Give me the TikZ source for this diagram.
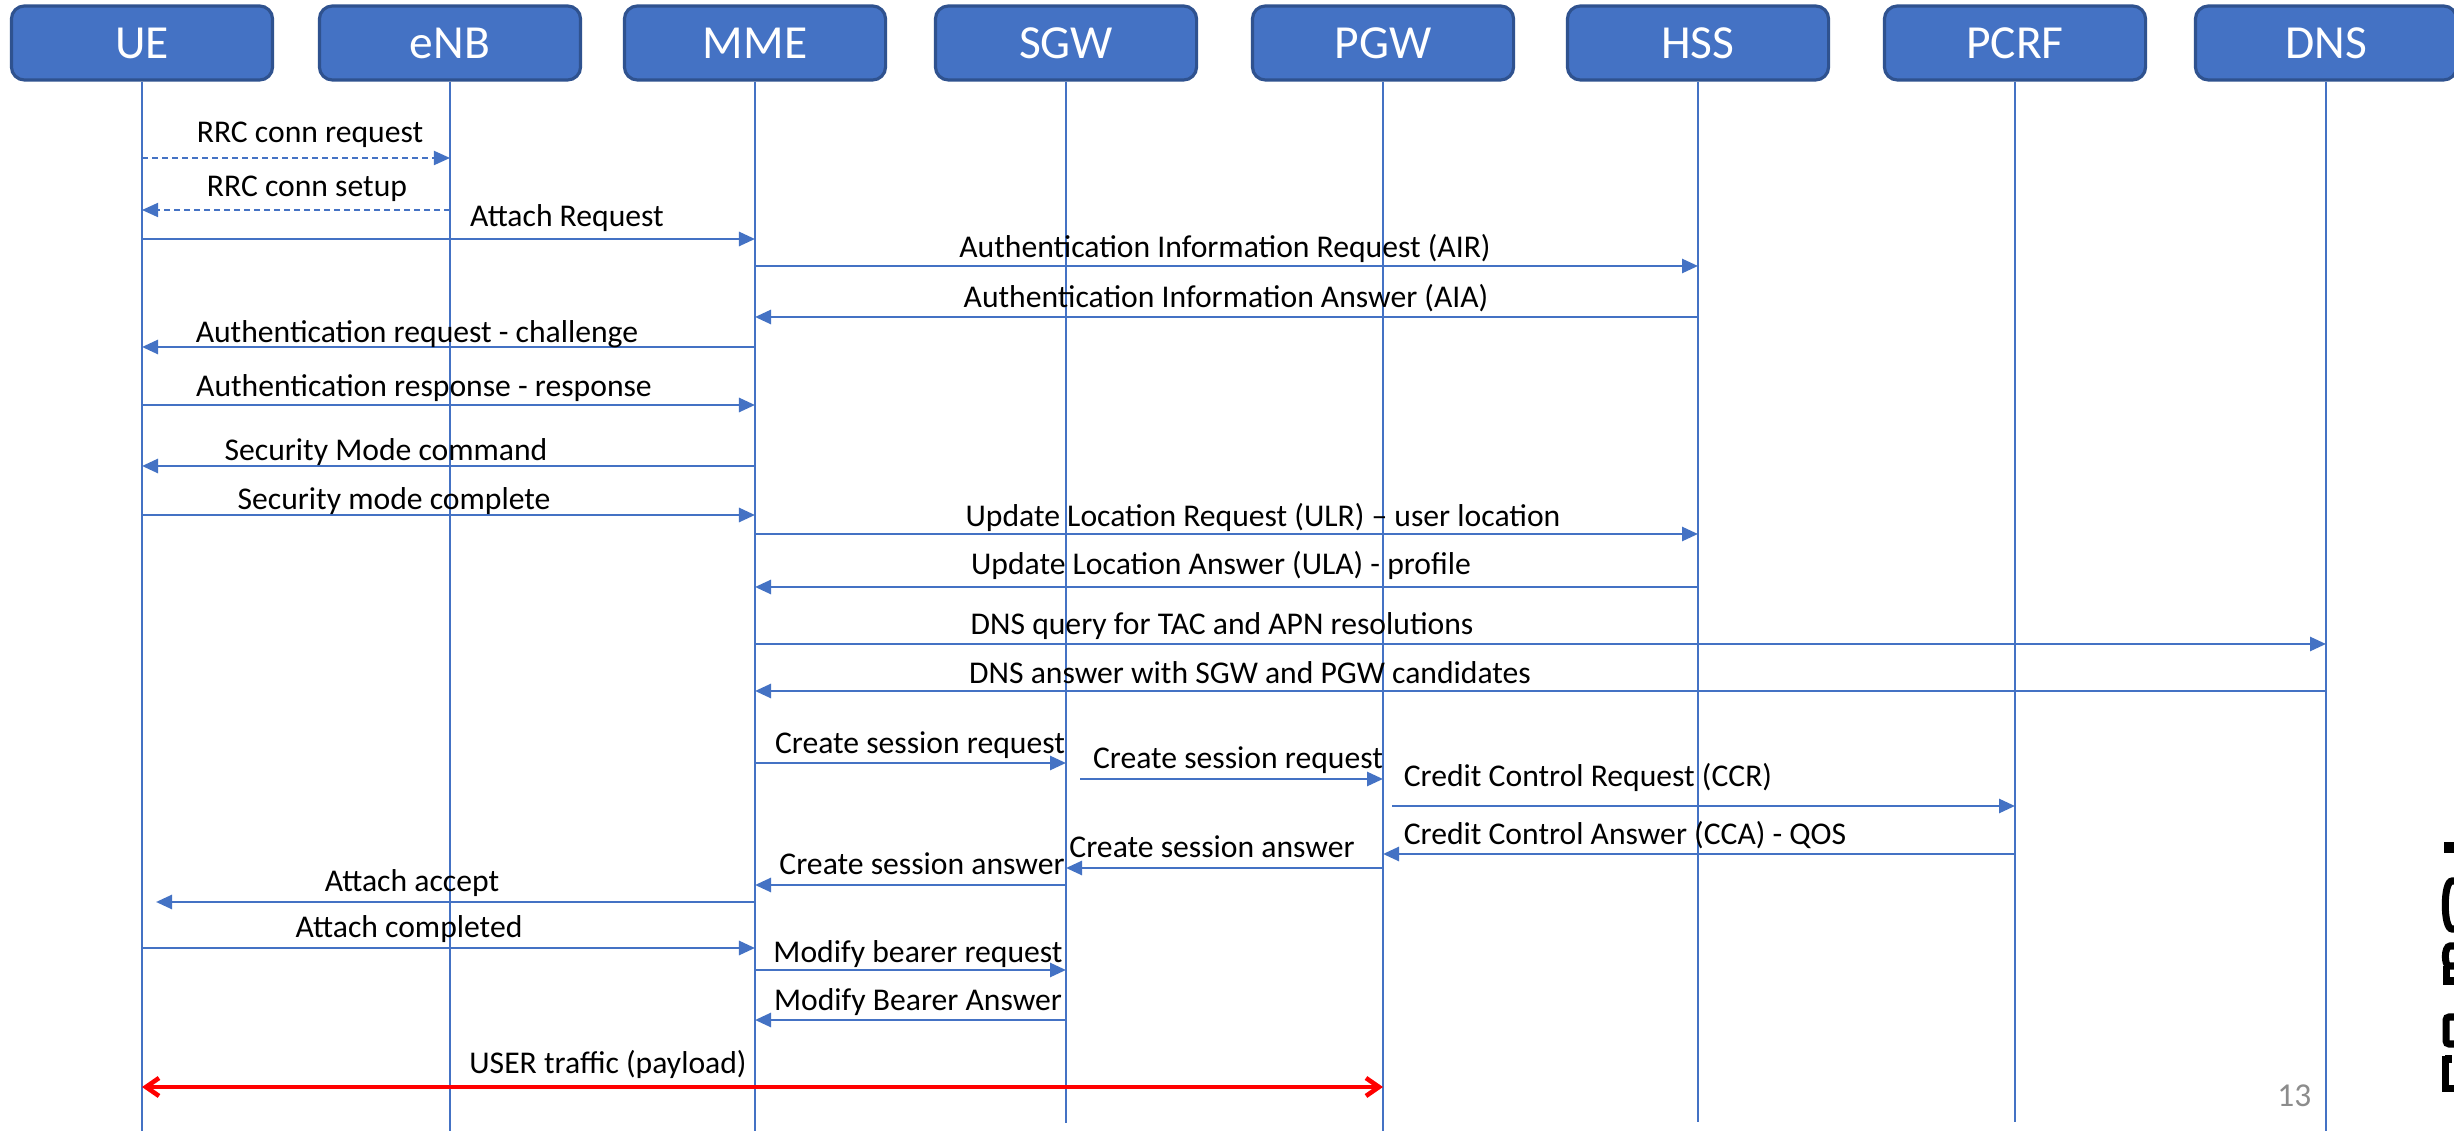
\documentclass[tikz,border=0pt]{standalone}
\usepackage{fontspec}
\setmainfont{Carlito}
\usetikzlibrary{arrows.meta}
\definecolor{ppblue}{HTML}{4472C4}
\definecolor{ppdark}{HTML}{2F528F}
\definecolor{pnum}{HTML}{8C8C8C}
\begin{document}
\begin{tikzpicture}[x=0.01cm,y=-0.01cm,
  actor/.style={draw=ppdark, line width=0.9pt, fill=ppblue, rounded corners=1.3mm, minimum width=2.61cm, minimum height=0.74cm, text=white, font=\fontsize{13.5}{16}\selectfont, inner sep=0pt},
  life/.style={draw=ppblue, line width=0.4pt},
  msg/.style={draw=ppblue, line width=0.75pt, -{Triangle[length=1.6mm,width=1.4mm]}},
  dmsg/.style={draw=ppblue, line width=0.5pt, dash pattern=on 0.6mm off 0.4mm, -{Triangle[length=1.6mm,width=1.4mm]}},
  lbl/.style={anchor=base, inner sep=0pt, font=\fontsize{9}{11}\selectfont},
  traffic/.style={draw=red, line width=1.3pt, {Straight Barb[length=1.3mm,width=1.8mm]}-{Straight Barb[length=1.3mm,width=1.8mm]}},
  logo/.style={draw=black, line width=0.7mm}
]
\useasboundingbox (0,0) rectangle (2454,1131);
\fill[white] (0,0) rectangle (2454,1131);

% actors
\node[actor] (UE)   at (142,43)  {UE};
\node[actor] (eNB)  at (450,43)  {eNB};
\node[actor] (MME)  at (755,43)  {MME};
\node[actor] (SGW)  at (1066,43) {SGW};
\node[actor] (PGW)  at (1383,43) {PGW};
\node[actor] (HSS)  at (1698,43) {HSS};
\node[actor] (PCRF) at (2015,43) {PCRF};
\node[actor] (DNS)  at (2326,43) {DNS};

% lifelines
\draw[life] (UE.south)   -- (UE.south |- 0,1131);
\draw[life] (eNB.south)  -- (eNB.south |- 0,1131);
\draw[life] (MME.south)  -- (MME.south |- 0,1131);
\draw[life] (SGW.south)  -- (SGW.south |- 0,1123);
\draw[life] (PGW.south)  -- (PGW.south |- 0,1131);
\draw[life] (HSS.south)  -- (HSS.south |- 0,1122);
\draw[life] (PCRF.south) -- (PCRF.south |- 0,1122);
\draw[life] (DNS.south)  -- (DNS.south |- 0,1131);

% messages
\draw[dmsg] (UE |- 0,158) -- (eNB |- 0,158);
\node[lbl] (m1) at (310,143) {RRC conn request};
\draw[dmsg] (eNB |- 0,210) -- (UE |- 0,210);
\node[lbl] (m2) at (307,197) {RRC conn setup};
\draw[msg] (UE |- 0,239) -- (MME |- 0,239);
\node[lbl] (m3) at (567,227) {Attach Request};
\draw[msg] (MME |- 0,266) -- (HSS |- 0,266);
\node[lbl] (m4) at (1225,258) {Authentication Information Request (AIR)};
\draw[msg] (HSS |- 0,317) -- (MME |- 0,317);
\node[lbl] (m5) at (1226,308) {Authentication Information Answer (AIA)};
\draw[msg] (MME |- 0,347) -- (UE |- 0,347);
\node[lbl] (m6) at (417,343) {Authentication request - challenge};
\draw[msg] (UE |- 0,405) -- (MME |- 0,405);
\node[lbl] (m7) at (424,397) {Authentication response - response};
\draw[msg] (MME |- 0,466) -- (UE |- 0,466);
\node[lbl] (m8) at (386,461) {Security Mode command};
\draw[msg] (UE |- 0,515) -- (MME |- 0,515);
\node[lbl] (m9) at (394,510) {Security mode complete};
\draw[msg] (MME |- 0,534) -- (HSS |- 0,534);
\node[lbl] (m10) at (1263,527) {Update Location Request (ULR) -- user location};
\draw[msg] (HSS |- 0,587) -- (MME |- 0,587);
\node[lbl] (m11) at (1221,575) {Update Location Answer (ULA) - profile};
\draw[msg] (MME |- 0,644) -- (DNS |- 0,644);
\node[lbl] (m12) at (1222,635) {DNS query for TAC and APN resolutions};
\draw[msg] (DNS |- 0,691) -- (MME |- 0,691);
\node[lbl] (m13) at (1250,684) {DNS answer with SGW and PGW candidates};
\draw[msg] (MME |- 0,763) -- (SGW |- 0,763);
\node[lbl] (m14) at (920,754) {Create session request};
\draw[msg] ([xshift=0.14cm]SGW.center |- 0,779) -- (PGW |- 0,779);
\node[lbl] (m15) at (1238,768) {Create session request};
\draw[msg] ([xshift=0.09cm]PGW.center |- 0,806) -- (PCRF |- 0,806);
\node[lbl] (m16) at (1588,787) {Credit Control Request (CCR)};
\draw[msg] (PCRF |- 0,854) -- (PGW |- 0,854);
\node[lbl] (m17) at (1625,845) {Credit Control Answer (CCA) - QOS};
\draw[msg] (PGW |- 0,868) -- (SGW |- 0,868);
\node[lbl] (m18) at (1212,857) {Create session answer};
\draw[msg] (SGW |- 0,885) -- (MME |- 0,885);
\node[lbl] (m19) at (922,875) {Create session answer};
\draw[msg] (MME |- 0,902) -- ([xshift=0.14cm]UE.center |- 0,902);
\node[lbl] (m20) at (412,892) {Attach accept};
\draw[msg] (UE |- 0,948) -- (MME |- 0,948);
\node[lbl] (m21) at (409,937) {Attach completed};
\draw[msg] (MME |- 0,970) -- (SGW |- 0,970);
\node[lbl] (m22) at (918,962) {Modify bearer request};
\draw[msg] (SGW |- 0,1020) -- (MME |- 0,1020);
\node[lbl] (m23) at (918,1011) {Modify Bearer Answer};
\draw[traffic] (UE |- 0,1087) -- (PGW |- 0,1087);
\node[lbl] (m24) at (608,1073) {USER traffic (payload)};

% page number
\node[anchor=base east, inner sep=0pt, text=pnum, font=\fontsize{9.5}{11}\selectfont] (pg) at (2312,1106) {13};

% cut-off logo at the right edge
\fill[black] (2444,842) rectangle (2456,853);
\draw[logo] (2456,881) -- (2452,881) .. controls (2443,881) and (2443,929) .. (2452,929) -- (2456,929);
\draw[logo] (2456,946) -- (2450,946) .. controls (2444,946) and (2444,966) .. (2449,966) -- (2456,966);
\draw[logo] (2446,966) -- (2446,981) -- (2456,981);
\draw[logo, rounded corners=0.3mm] (2456,1017) -- (2446,1017) -- (2446,1044) -- (2456,1044);
\draw[logo] (2445,1056) -- (2445,1092);
\draw[logo] (2445,1088) -- (2456,1088);
\draw[logo] (2445,1059) -- (2452,1059);
\end{tikzpicture}
\end{document}
